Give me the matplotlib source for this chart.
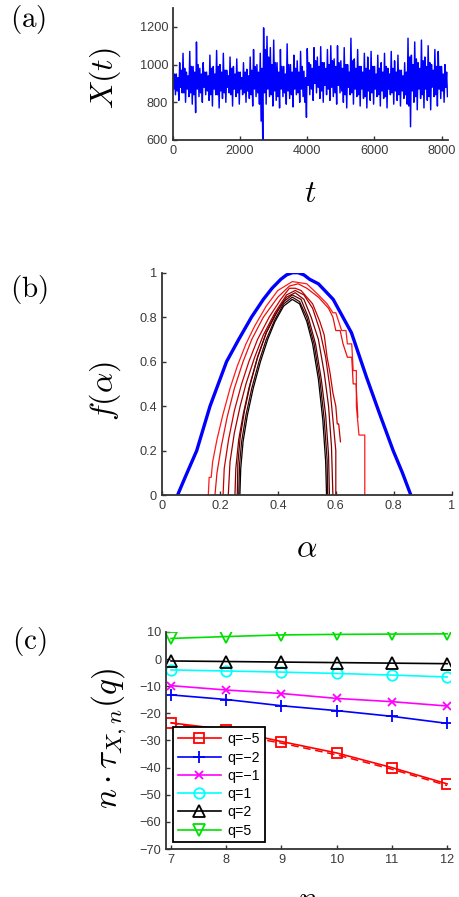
import numpy as np
import matplotlib
matplotlib.use("Agg")
import matplotlib.pyplot as plt

plt.rcParams['font.family'] = ['Liberation Sans', 'DejaVu Sans']
plt.rcParams['mathtext.fontset'] = 'cm'
plt.rcParams['axes.unicode_minus'] = True

# ---------------- (a) time series: values ----------------
t_upper = list(range(0, 8200, 100))
x_upper = [985, 950, 1010, 1060, 960, 1070, 990, 1120, 980, 1010,
           960, 1050, 990, 1075, 1000, 1060, 970, 1040, 990, 1030,
           960, 1010, 975, 1040, 1080, 1000, 1060, 1195, 1150, 1090,
           1130, 1010, 1080, 990, 1110, 1000, 1050, 1020, 1070, 965,
           1085, 1000, 1090, 1040, 1095, 1010, 1080, 1100, 1030, 1100,
           1020, 1090, 1000, 1140, 1030, 1080, 990, 1060, 1040, 1070,
           990, 1050, 1010, 1060, 980, 1070, 1020, 1050, 970, 1010,
           1140, 1050, 1120, 1010, 1130, 1040, 1100, 1000, 1080, 1070,
           990, 1000]
t_core_lo = list(range(25, 8200, 100))
x_core_lo = [870, 860, 880, 850, 870, 850, 840, 870, 850, 880,
             860, 840, 870, 840, 860, 850, 880, 840, 870, 850,
             870, 850, 860, 840, 870, 850, 700, 850, 870, 840,
             860, 830, 870, 850, 860, 840, 870, 850, 870, 800,
             890, 870, 900, 880, 860, 890, 870, 880, 850, 890,
             860, 840, 880, 850, 870, 840, 870, 830, 860, 850,
             870, 840, 860, 830, 870, 850, 860, 840, 860, 840,
             780, 860, 830, 870, 840, 870, 830, 880, 840, 870,
             860, 880]
t_core_hi = list(range(50, 8200, 100))
x_core_hi = [950, 930, 970, 980, 940, 990, 960, 1000, 950, 960,
             940, 980, 950, 990, 960, 970, 940, 980, 950, 960,
             930, 960, 940, 970, 990, 960, 980, 1080, 1040, 1000,
             1010, 960, 990, 950, 1000, 960, 980, 960, 990, 930,
             1010, 980, 1020, 990, 1010, 980, 1000, 1020, 990, 1010,
             980, 1000, 960, 1020, 980, 990, 960, 980, 970, 990,
             950, 980, 960, 990, 950, 980, 960, 970, 940, 960,
             1040, 1000, 1030, 980, 1020, 990, 1010, 970, 990, 990,
             950, 960]
t_lower = list(range(75, 8200, 100))
x_lower = [840, 810, 850, 800, 830, 790, 745, 830, 800, 840,
           810, 780, 840, 770, 820, 800, 850, 780, 830, 790,
           840, 800, 820, 780, 830, 790, 580, 790, 830, 780,
           810, 770, 830, 790, 820, 775, 840, 800, 830, 720,
           840, 810, 850, 820, 800, 840, 810, 830, 790, 850,
           800, 770, 840, 790, 830, 780, 820, 770, 810, 790,
           830, 780, 820, 770, 840, 790, 810, 780, 820, 790,
           670, 800, 760, 820, 770, 810, 760, 830, 780, 820,
           800, 830]

# ---------------- (b) multifractal spectra ----------------
blue_alpha = [0.054, 0.08, 0.12, 0.166, 0.223, 0.265, 0.309, 0.35, 0.38, 0.41, 0.43,
              0.45, 0.47, 0.49, 0.51, 0.54, 0.591, 0.654, 0.706, 0.75, 0.798, 0.83, 0.859]
blue_f = [0.0, 0.08, 0.20, 0.40, 0.60, 0.70, 0.80, 0.88, 0.93, 0.97, 0.99,
          1.0, 1.0, 0.99, 0.97, 0.95, 0.88, 0.73, 0.53, 0.37, 0.20, 0.10, 0.0]

spec_alpha = [
    [0.160, 0.163, 0.170, 0.175, 0.19, 0.21, 0.235, 0.26, 0.29, 0.32, 0.36, 0.40, 0.45,
     0.50, 0.54, 0.57, 0.59, 0.60, 0.61, 0.62, 0.635, 0.64, 0.655, 0.66, 0.671, 0.671,
     0.68, 0.70, 0.70],
    [0.183, 0.19, 0.205, 0.225, 0.25, 0.28, 0.31, 0.35, 0.40, 0.44, 0.47,
     0.50, 0.54, 0.575, 0.59, 0.60, 0.615, 0.625, 0.64, 0.655, 0.66, 0.67, 0.676],
    [0.211, 0.215, 0.23, 0.25, 0.275, 0.30, 0.33, 0.37, 0.41, 0.44, 0.46,
     0.48, 0.52, 0.545, 0.56, 0.57, 0.58, 0.59, 0.60, 0.605, 0.61, 0.616],
    [0.229, 0.235, 0.25, 0.27, 0.29, 0.32, 0.35, 0.39, 0.43, 0.46, 0.49, 0.52, 0.545, 0.565,
     0.58, 0.59, 0.60, 0.60],
    [0.252, 0.255, 0.265, 0.28, 0.30, 0.33, 0.36, 0.40, 0.43, 0.46, 0.49, 0.515, 0.54, 0.56,
     0.575, 0.585, 0.59],
    [0.26, 0.262, 0.27, 0.285, 0.305, 0.33, 0.36, 0.39, 0.42, 0.45, 0.48, 0.505, 0.53, 0.55,
     0.565, 0.575, 0.578],
    [0.265, 0.268, 0.275, 0.29, 0.31, 0.335, 0.36, 0.39, 0.42, 0.45, 0.475, 0.50, 0.525, 0.545,
     0.56, 0.57, 0.572],
    [0.269, 0.272, 0.28, 0.295, 0.315, 0.34, 0.365, 0.39, 0.42, 0.45, 0.475, 0.50, 0.52, 0.54,
     0.555, 0.565, 0.568],
]
spec_f = [
    [0.00, 0.08, 0.08, 0.15, 0.25, 0.36, 0.48, 0.58, 0.68, 0.76, 0.85, 0.92, 0.96,
     0.95, 0.90, 0.86, 0.82, 0.82, 0.78, 0.74, 0.74, 0.68, 0.68, 0.56, 0.56, 0.40,
     0.27, 0.27, 0.00],
    [0.00, 0.10, 0.22, 0.35, 0.48, 0.60, 0.70, 0.80, 0.89, 0.94, 0.95,
     0.93, 0.89, 0.84, 0.80, 0.74, 0.74, 0.68, 0.62, 0.62, 0.50, 0.50, 0.35],
    [0.00, 0.12, 0.25, 0.38, 0.50, 0.60, 0.70, 0.80, 0.88, 0.93, 0.93,
     0.92, 0.86, 0.78, 0.72, 0.62, 0.55, 0.46, 0.40, 0.32, 0.32, 0.24],
    [0.00, 0.15, 0.28, 0.40, 0.50, 0.62, 0.72, 0.82, 0.90, 0.92, 0.90, 0.84, 0.74, 0.62,
     0.48, 0.34, 0.20, 0.00],
    [0.00, 0.12, 0.25, 0.36, 0.48, 0.62, 0.73, 0.83, 0.89, 0.91, 0.88, 0.80, 0.70, 0.55,
     0.40, 0.22, 0.00],
    [0.00, 0.14, 0.26, 0.38, 0.50, 0.62, 0.73, 0.81, 0.87, 0.90, 0.88, 0.80, 0.68, 0.52,
     0.36, 0.18, 0.00],
    [0.00, 0.14, 0.24, 0.36, 0.48, 0.60, 0.70, 0.79, 0.86, 0.89, 0.87, 0.80, 0.68, 0.52,
     0.34, 0.16, 0.00],
    [0.00, 0.12, 0.24, 0.36, 0.48, 0.60, 0.70, 0.78, 0.85, 0.88, 0.86, 0.78, 0.68, 0.52,
     0.34, 0.15, 0.00],
]
spec_colors = ['#ff1a1a', '#e81010', '#c80000', '#a00000', '#800000', '#600000', '#400000', '#000000']

# ---------------- (c) scaling functions ----------------
n_vals = [7, 8, 9, 10, 11, 12]
q_labels = ['q=\u22125', 'q=\u22122', 'q=\u22121', 'q=1', 'q=2', 'q=5']
tau_qm5 = [-23.5, -26.0, -30.4, -34.6, -40.0, -46.0]
tau_qm2 = [-13.2, -14.9, -17.2, -19.0, -21.1, -23.7]
tau_qm1 = [-9.8, -11.4, -12.7, -14.5, -15.7, -17.3]
tau_q1 = [-4.0, -4.4, -4.8, -5.3, -5.9, -6.6]
tau_q2 = [-0.7, -0.9, -1.1, -1.3, -1.5, -1.7]
tau_q5 = [7.6, 8.3, 8.9, 9.1, 9.2, 9.3]
tau_qm5_fit = [-23.5, -27.2, -31.0, -35.3, -40.6, -46.6]

series_c = [tau_qm5, tau_qm2, tau_qm1, tau_q1, tau_q2, tau_q5]
colors_c = ['#ff0000', '#0000ff', '#ff00ff', '#00ffff', '#000000', '#00e000']
markers_c = ['s', '+', 'x', 'o', '^', 'v']
msizes_c = [7.5, 8.5, 5.5, 7.5, 8, 8]

# ---------------- figure ----------------
fig = plt.figure(figsize=(4.6, 8.97), dpi=100)

spine_col = '#333333'
tick_col = '#3a3a3a'


def style(ax):
    for s in ['top', 'right']:
        ax.spines[s].set_visible(False)
    for s in ['left', 'bottom']:
        ax.spines[s].set_color(spine_col)
        ax.spines[s].set_linewidth(1.3)
    ax.tick_params(direction='in', length=3, width=1, colors=spine_col,
                   labelsize=9.2, labelcolor=tick_col, pad=3.5)


# (a)
axa = fig.add_axes([0.376, 0.844, 0.598, 0.147])
t_all = np.concatenate([t_upper, t_core_lo, t_core_hi, t_lower])
x_all = np.concatenate([x_upper, x_core_lo, x_core_hi, x_lower])
order = np.argsort(t_all)
axa.plot(t_all[order], x_all[order], color='#0000ff', lw=1.05)
axa.set_xlim(0, 8192)
axa.set_ylim(600, 1300)
axa.set_xticks([0, 2000, 4000, 6000, 8000])
axa.set_yticks([600, 800, 1000, 1200])
style(axa)
axa.text(0.5, -0.47, r'$t$', transform=axa.transAxes, ha='center', va='baseline', fontsize=23)
axa.text(-0.245, 0.47, r'$X(t)$', transform=axa.transAxes, ha='center', va='center',
         rotation=90, fontsize=23)

# (b)
axb = fig.add_axes([0.352, 0.448, 0.630, 0.248])
axb.plot(blue_alpha, blue_f, color='#0000ff', lw=2.4, solid_capstyle='butt')
for a, f, c in zip(spec_alpha, spec_f, spec_colors):
    axb.plot(a, f, color=c, lw=0.9)
axb.set_xlim(0, 1)
axb.set_ylim(0, 1)
axb.set_xticks([0, 0.2, 0.4, 0.6, 0.8, 1])
axb.set_xticklabels(['0', '0.2', '0.4', '0.6', '0.8', '1'])
axb.set_yticks([0, 0.2, 0.4, 0.6, 0.8, 1])
axb.set_yticklabels(['0', '0.2', '0.4', '0.6', '0.8', '1'])
style(axb)
axb.text(0.5, -0.279, r'$\alpha$', transform=axb.transAxes, ha='center', va='baseline', fontsize=23)
axb.text(-0.195, 0.468, r'$f(\alpha)$', transform=axb.transAxes, ha='center', va='center',
         rotation=90, fontsize=23)

# (c)
axc = fig.add_axes([0.361, 0.0535, 0.617, 0.242])
axc.plot(n_vals, tau_qm5_fit, color='#ff0000', lw=1.1, ls=(0, (5, 3)))
for y, c, m, ms, lab in zip(series_c, colors_c, markers_c, msizes_c, q_labels):
    axc.plot(n_vals, y, color=c, lw=1.2, marker=m, ms=ms,
             mfc='none', mec=c, mew=1.3, label=lab)
axc.set_xlim(6.91, 12.05)
axc.set_ylim(-70, 10)
axc.set_xticks(n_vals)
axc.set_yticks(list(range(-70, 11, 10)))
style(axc)
leg = axc.legend(loc='lower left', bbox_to_anchor=(0.025, 0.03), fontsize=10.2,
                 handlelength=3.0, labelspacing=0.3, borderpad=0.35, handletextpad=0.5,
                 fancybox=False, framealpha=1, edgecolor='black', borderaxespad=0)
leg.get_frame().set_linewidth(1.3)
axc.text(0.5, -0.272, r'$n$', transform=axc.transAxes, ha='center', va='baseline', fontsize=23)
axc.text(-0.2, 0.507, r'$n\cdot\tau_{X,n}(q)$', transform=axc.transAxes, ha='center',
         va='center', rotation=90, fontsize=24)

# panel labels
fig.text(0.061, 0.978, r'$\mathrm{(a)}$', ha='center', va='center', fontsize=21)
fig.text(0.063, 0.677, r'$\mathrm{(b)}$', ha='center', va='center', fontsize=21)
fig.text(0.063, 0.285, r'$\mathrm{(c)}$', ha='center', va='center', fontsize=21)

fig.savefig('out.png', dpi=100)
